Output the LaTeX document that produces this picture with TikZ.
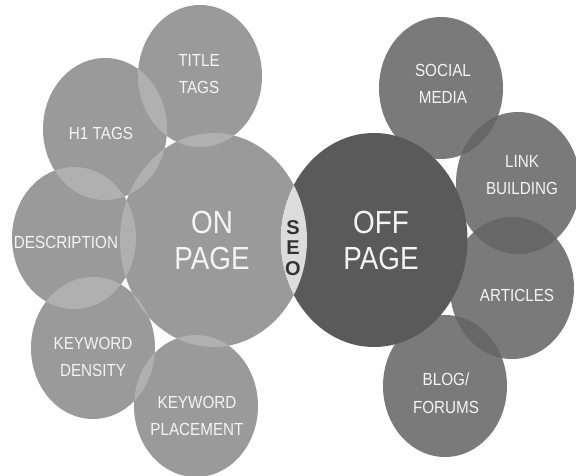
\documentclass[tikz,border=0pt]{standalone}
\usepackage{fontspec}
\setmainfont{Liberation Sans}
\newfontfamily\condfont[FakeStretch=0.87]{Liberation Sans}
\usetikzlibrary{shapes.geometric}

\definecolor{ongray}{HTML}{9A9A9A}
\definecolor{onlens}{HTML}{B0B0B0}
\definecolor{offgray}{HTML}{5A5A5A}
\definecolor{sidegray}{HTML}{7A7A7A}
\definecolor{sidelens}{HTML}{676767}
\definecolor{seolens}{HTML}{DCDCDC}
\definecolor{tagwhite}{HTML}{F4F4F4}

\tikzset{
  bubble/.style={ellipse, inner sep=0pt, minimum width=124pt, minimum height=142pt},
  hub/.style={ellipse, inner sep=0pt, minimum width=187pt, minimum height=214pt},
  tag/.style={text=tagwhite, align=center, font=\condfont\fontsize{17.5}{27.5}\selectfont},
  hubtag/.style={text=tagwhite, align=center, font=\condfont\fontsize{32}{36}\selectfont},
  seotag/.style={text=black!80, align=center, font=\bfseries\fontsize{20}{20.5}\selectfont}
}

\begin{document}
\begin{tikzpicture}[x=1pt,y=-1pt]
  \useasboundingbox (0,0) rectangle (576,476);

  % on page side
  \begin{scope}[every node/.style={bubble,fill=ongray}]
    \node (title)     at (200,76)  {};
    \node (hone)      at (105,129) {};
    \node (desc)      at (74,238)  {};
    \node (density)   at (93,348)  {};
    \node (placement) at (196,406) {};
  \end{scope}
  \node[hub,fill=ongray] (onpage) at (213.5,240) {};

  % lighter overlaps
  \foreach \s in {title,hone,desc,density,placement}{
    \begin{scope}
      \clip (\s.center) ellipse [x radius=62, y radius=71];
      \fill[onlens] (onpage.center) ellipse [x radius=93.5, y radius=107];
    \end{scope}
  }
  \foreach \a/\b in {title/hone,hone/desc,desc/density,density/placement}{
    \begin{scope}
      \clip (\a.center) ellipse [x radius=62, y radius=71];
      \fill[onlens] (\b.center) ellipse [x radius=62, y radius=71];
    \end{scope}
  }

  % off page side
  \begin{scope}[every node/.style={bubble,fill=sidegray}]
    \node (social)   at (441,88)  {};
    \node (link)     at (518,183) {};
    \node (articles) at (512,288) {};
    \node (blog)     at (445,386) {};
  \end{scope}

  % darker overlaps
  \foreach \a/\b in {social/link,link/articles,articles/blog}{
    \begin{scope}
      \clip (\a.center) ellipse [x radius=62, y radius=71];
      \fill[sidelens] (\b.center) ellipse [x radius=62, y radius=71];
    \end{scope}
  }
  \node[hub,fill=offgray] (offpage) at (374,240) {};

  % seo lens
  \begin{scope}
    \clip (offpage.center) ellipse [x radius=93.5, y radius=107];
    \fill[seolens] (onpage.center) ellipse [x radius=93.5, y radius=107];
  \end{scope}

  % labels
  \node[tag] (titletext)     at (199,74)  {TITLE\\TAGS};
  \node[tag] (honetext)      at (101,133) {H1 TAGS};
  \node[tag] (desctext)      at (66,242)  {DESCRIPTION};
  \node[tag] (densitytext)   at (93,357)  {KEYWORD\\DENSITY};
  \node[tag] (placementtext) at (197,416) {KEYWORD\\PLACEMENT};
  \node[tag] (socialtext)    at (443,84)  {SOCIAL\\MEDIA};
  \node[tag] (linktext)      at (522,175) {LINK\\BUILDING};
  \node[tag] (articlestext)  at (517,295) {ARTICLES};
  \node[tag] (blogtext)      at (446,393) {BLOG/\\FORUMS};
  \node[hubtag] (ontext)     at (212,240) {ON\\PAGE};
  \node[hubtag] (offtext)    at (381,240) {OFF\\PAGE};
  \node[seotag] (seo)        at (293,248) {S\\E\\O};

\end{tikzpicture}
\end{document}
